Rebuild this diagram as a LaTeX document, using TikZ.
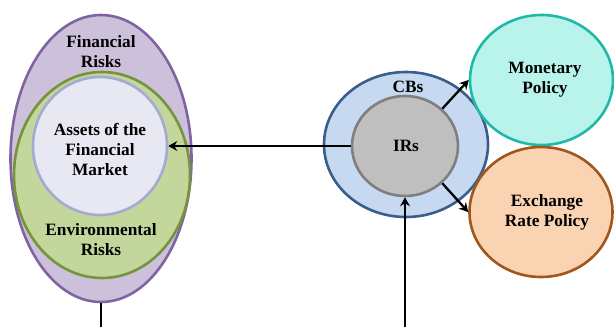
\documentclass[tikz,border=0pt]{standalone}
\usepackage{fontspec}
\setmainfont{Liberation Serif}
\usetikzlibrary{shapes.geometric,arrows.meta}
\definecolor{purpF}{HTML}{CCC0DA}
\definecolor{purpD}{HTML}{8064A2}
\definecolor{greenF}{HTML}{C3D69B}
\definecolor{greenD}{HTML}{77933C}
\definecolor{assetF}{HTML}{E8E8F2}
\definecolor{assetD}{HTML}{A3AAD3}
\definecolor{cbF}{HTML}{C6D9F1}
\definecolor{cbD}{HTML}{3A5E8C}
\definecolor{irF}{HTML}{BFBFBF}
\definecolor{irD}{HTML}{7F7F7F}
\definecolor{monF}{HTML}{B8F3EC}
\definecolor{monD}{HTML}{20B8A6}
\definecolor{exF}{HTML}{FAD3B2}
\definecolor{exD}{HTML}{A0561C}
\begin{document}
\begin{tikzpicture}[x=1pt,y=-1pt,
  blob/.style={ellipse,inner sep=0pt,line width=2.6pt},
  lbl/.style={font=\fontsize{17.3}{20}\selectfont\bfseries,align=center,inner sep=0pt},
  conn/.style={line width=2.3pt,-{Stealth[length=9pt,width=10pt,inset=3pt]}}]
\useasboundingbox (0,0) rectangle (614,327);
% left group
\node[blob,draw=purpD,fill=purpF,minimum width=181pt,minimum height=287pt] (fin) at (101,158.5) {};
\node[blob,draw=greenD,fill=greenF,minimum width=176pt,minimum height=206pt] (env) at (102,175) {};
\node[blob,draw=assetD,fill=assetF,minimum width=134pt,minimum height=138pt] (assets) at (100,146) {};
\node[lbl] (finT) at (101,52) {Financial\\Risks};
\node[lbl] (envT) at (101,240) {Environmental\\Risks};
\node[lbl] (assetsT) at (100,149) {Assets of the\\Financial\\Market};
% right group
\node[blob,draw=cbD,fill=cbF,minimum width=164pt,minimum height=145pt] (cbs) at (406,144.5) {};
\node[blob,draw=irD,fill=irF,minimum width=106pt,minimum height=100pt] (irs) at (405,146) {};
\node[lbl] (cbsT) at (408,87) {CBs};
\node[lbl] (irsT) at (406,146) {IRs};
\node[blob,draw=monD,fill=monF,minimum width=143pt,minimum height=130pt] (mon) at (541.5,80) {};
\node[lbl] (monT) at (545,80) {Monetary\\Policy};
\node[blob,draw=exD,fill=exF,minimum width=143pt,minimum height=130pt] (exr) at (541,212) {};
\node[lbl] (exrT) at (547,212.5) {Exchange\\Rate Policy};
% connectors
\coordinate (b1) at (101,327);
\coordinate (b2) at (405,327);
\draw[line width=2.3pt] (fin.south) -- (b1);
\draw[conn] (irs.west) -- (assets.east);
\draw[conn] (b2) -- (irs.south);
\draw[conn] (irs.45) -- (mon.west);
\draw[conn] (irs.-45) -- (exr.west);
\end{tikzpicture}
\end{document}
